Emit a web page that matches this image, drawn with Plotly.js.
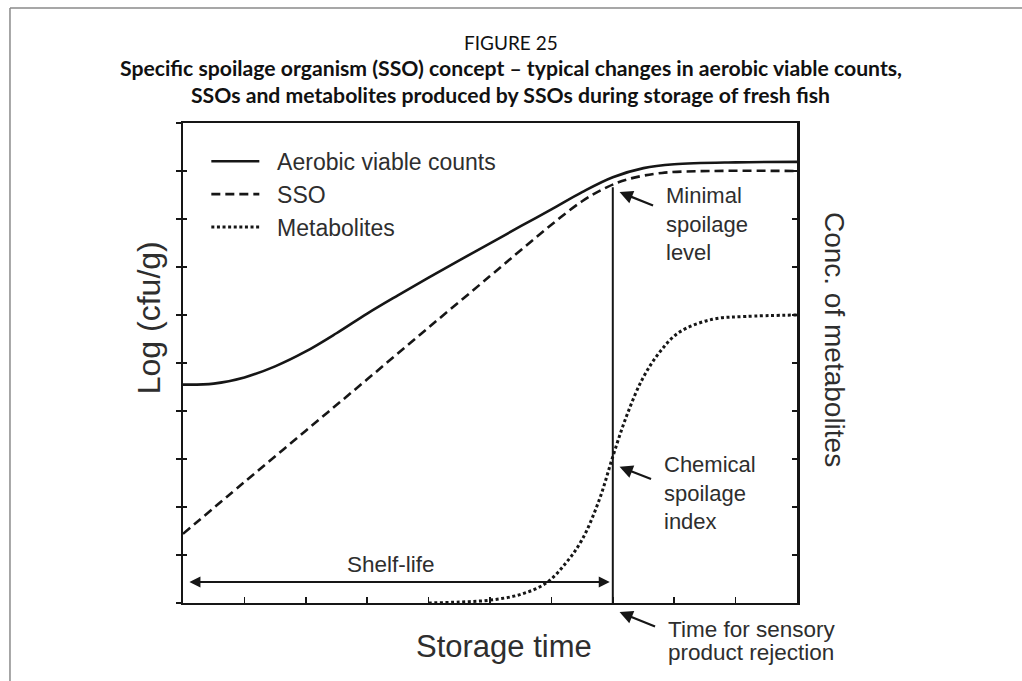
<!DOCTYPE html>
<html>
<head>
<meta charset="utf-8">
<script src="https://cdn.plot.ly/plotly-3.0.1.min.js"></script>
<style>
html,body{margin:0;padding:0;background:#fff;}
#chart{width:1022px;height:681px;}
</style>
</head>
<body>
<div id="chart"></div>
<script>
// ---- data ----
const titleLines = [
  "FIGURE 25",
  "Specific spoilage organism (SSO) concept – typical changes in aerobic viable counts,",
  "SSOs and metabolites produced by SSOs during storage of fresh fish"
];
const seriesNames = ["Aerobic viable counts", "SSO", "Metabolites"];

const avcTime = [0, 0.5, 1, 1.5, 2, 2.5, 3, 3.5, 4, 4.5, 5, 5.5, 6, 6.5, 7, 7.5, 8, 9, 10];
const avcLog  = [4.55, 4.57, 4.70, 4.93, 5.24, 5.62, 6.03, 6.41, 6.78, 7.14, 7.49, 7.85, 8.20, 8.56, 8.87, 9.06, 9.14, 9.18, 9.19];

const ssoTime = [0, 1, 2, 3, 4, 5, 5.5, 6, 6.5, 6.9, 7.25, 7.8, 8.6, 10];
const ssoLog  = [1.44, 2.52, 3.59, 4.66, 5.74, 6.81, 7.35, 7.88, 8.37, 8.66, 8.83, 8.96, 9.0, 9.0];

const metTime = [4, 4.5, 5, 5.5, 5.92, 6.24, 6.5, 6.78, 7.0, 7.22, 7.48, 7.76, 8.08, 8.62, 9.17, 10];
const metConc = [0, 0.02, 0.06, 0.18, 0.42, 0.84, 1.32, 2.15, 3.05, 3.88, 4.66, 5.22, 5.64, 5.91, 5.97, 6.0];

const rejectionTime = 7.0;         // time for sensory product rejection
const minimalSpoilageLevel = 8.66; // SSO level at rejection
const shelfLifeLabel = "Shelf-life";
const axisLabels = {x: "Storage time", yLeft: "Log (cfu/g)", yRight: "Conc. of metabolites"};
const calloutTexts = {
  minimal: "Minimal<br>spoilage<br>level",
  chemical: "Chemical<br>spoilage<br>index",
  rejection: ["Time for sensory", "product rejection"]
};

// ---- styles ----
const ink = "#161616";
const txt = "#2e2e2e";
const fontFam = "Liberation Sans, Arial, sans-serif";
const titleFam = "Lato, sans-serif";
const pad = "\u00a0\u00a0"; // gap between legend sample and its label

const traces = [
  {x: avcTime, y: avcLog, name: pad + seriesNames[0], mode: "lines",
   line: {color: ink, width: 2.6, shape: "spline", smoothing: 1}},
  {x: ssoTime, y: ssoLog, name: pad + seriesNames[1], mode: "lines",
   line: {color: ink, width: 2.6, dash: "9px,5px", shape: "spline", smoothing: 1}},
  {x: metTime, y: metConc, name: pad + seriesNames[2], mode: "lines",
   line: {color: ink, width: 3, dash: "3px,2.6px", shape: "spline", smoothing: 1}},
  {x: [rejectionTime, rejectionTime], y: [0, minimalSpoilageLevel], mode: "lines",
   showlegend: false, hoverinfo: "skip", line: {color: ink, width: 2}},
  // axis carriers (thick right spine, inner half of left ticks)
  {x: [0], y: [0], yaxis: "y2", mode: "markers", marker: {opacity: 0}, showlegend: false, hoverinfo: "skip"},
  {x: [0], y: [0], yaxis: "y3", mode: "markers", marker: {opacity: 0}, showlegend: false, hoverinfo: "skip"}
];

const titleX = 0.534;
const annotations = [
  {xref: "paper", yref: "paper", x: titleX, y: 1.0, yshift: 55, xanchor: "center", yanchor: "middle",
   text: "<b>" + titleLines[1] + "</b>", showarrow: false,
   font: {family: titleFam, size: 21.2, color: "#111"}},
  {xref: "paper", yref: "paper", x: titleX, y: 1.0, yshift: 28, xanchor: "center", yanchor: "middle",
   text: "<b>" + titleLines[2] + "</b>", showarrow: false,
   font: {family: titleFam, size: 21.2, color: "#111"}},
  // axis titles
  {xref: "paper", yref: "paper", x: 0.523, y: -0.09, xanchor: "center", yanchor: "middle",
   text: axisLabels.x, showarrow: false, font: {family: fontFam, size: 31, color: txt}},
  {xref: "paper", yref: "paper", x: -0.054, y: 0.595, xanchor: "center", yanchor: "middle", textangle: -90,
   text: axisLabels.yLeft, showarrow: false, font: {family: fontFam, size: 32, color: txt}},
  {xref: "paper", yref: "paper", x: 1.062, y: 0.55, xanchor: "center", yanchor: "middle", textangle: 90,
   text: axisLabels.yRight, showarrow: false, font: {family: fontFam, size: 28, color: txt}},
  // shelf-life double arrow
  {x: rejectionTime - 0.05, y: 0.44, ax: 0.08, ay: 0.44, axref: "x", ayref: "y", text: "",
   showarrow: true, arrowside: "end+start", arrowhead: 2, arrowsize: 1.1, arrowwidth: 2, arrowcolor: ink},
  {x: 3.38, y: 0.8, text: shelfLifeLabel, showarrow: false, xanchor: "center", yanchor: "middle",
   font: {family: fontFam, size: 22.5, color: txt}},
  // minimal spoilage level
  {x: 7.11, y: 8.56, ax: 35, ay: 14, text: "", showarrow: true, arrowhead: 2, arrowsize: 1.2,
   arrowwidth: 2.2, arrowcolor: ink, standoff: 0},
  {x: 7.84, y: 7.89, text: calloutTexts.minimal, showarrow: false, xanchor: "left", yanchor: "middle",
   align: "left", font: {family: fontFam, size: 22, color: txt}},
  // chemical spoilage index
  {x: 7.11, y: 2.84, ax: 33, ay: 13, text: "", showarrow: true, arrowhead: 2, arrowsize: 1.2,
   arrowwidth: 2.2, arrowcolor: ink, standoff: 0},
  {x: 7.8, y: 2.30, text: calloutTexts.chemical, showarrow: false, xanchor: "left", yanchor: "middle",
   align: "left", font: {family: fontFam, size: 22, color: txt}},
  // time for sensory rejection
  {x: 7.11, xref: "x", yref: "paper", y: -0.019, ax: 37, ay: 15, text: "", showarrow: true, arrowhead: 2,
   arrowsize: 1.2, arrowwidth: 2.2, arrowcolor: ink, standoff: 0},
  {x: 7.87, xref: "x", yref: "paper", y: -0.056, text: calloutTexts.rejection[0], showarrow: false,
   xanchor: "left", yanchor: "middle", align: "left", font: {family: fontFam, size: 22.5, color: txt}},
  {x: 7.87, xref: "x", yref: "paper", y: -0.104, text: calloutTexts.rejection[1], showarrow: false,
   xanchor: "left", yanchor: "middle", align: "left", font: {family: fontFam, size: 22.5, color: txt}}
];

const shapes = [
  // figure frame (top and left edges)
  {type: "line", xref: "paper", yref: "paper", x0: -0.2818, x1: 1.37, y0: 1.2396, y1: 1.2396,
   line: {color: "#8a8a8a", width: 1.5}},
  {type: "line", xref: "paper", yref: "paper", x0: -0.2818, x1: -0.2818, y0: 1.2396, y1: -0.17,
   line: {color: "#8a8a8a", width: 1.5}}
];

const yCommon = {range: [0, 10], dtick: 1, tick0: 0, showticklabels: false, tickwidth: 1.5, tickcolor: ink,
                 showgrid: false, zeroline: false, fixedrange: true};

const layout = {
  width: 1022, height: 681,
  margin: {l: 183, r: 225, t: 123, b: 78},
  paper_bgcolor: "#fff", plot_bgcolor: "#fff",
  title: {text: titleLines[0], x: titleX, xref: "paper", xanchor: "center", y: 1 - 43/681, yanchor: "middle",
          font: {family: titleFam, size: 19, color: "#111"}},
  showlegend: true,
  legend: {x: 0.038, y: 0.965, xanchor: "left", yanchor: "top", bgcolor: "rgba(0,0,0,0)",
           font: {family: fontFam, size: 23, color: txt}, itemwidth: 48, tracegroupgap: 0},
  xaxis: {range: [0, 10], dtick: 1, tick0: 0, showticklabels: false, ticks: "inside", ticklen: 6,
          tickwidth: 1.5, tickcolor: ink, showline: true, linecolor: ink, linewidth: 2,
          mirror: true, showgrid: false, zeroline: false, fixedrange: true},
  yaxis: Object.assign({}, yCommon, {ticks: "outside", ticklen: 5, showline: true, linecolor: ink, linewidth: 2}),
  yaxis3: Object.assign({}, yCommon, {overlaying: "y", side: "left", ticks: "inside", ticklen: 4, showline: false}),
  yaxis2: Object.assign({}, yCommon, {overlaying: "y", side: "right", ticks: "inside", ticklen: 5,
           showline: true, linecolor: ink, linewidth: 3}),
  annotations: annotations,
  shapes: shapes
};

Plotly.newPlot("chart", traces, layout, {staticPlot: true, displayModeBar: false});
</script>
</body>
</html>
